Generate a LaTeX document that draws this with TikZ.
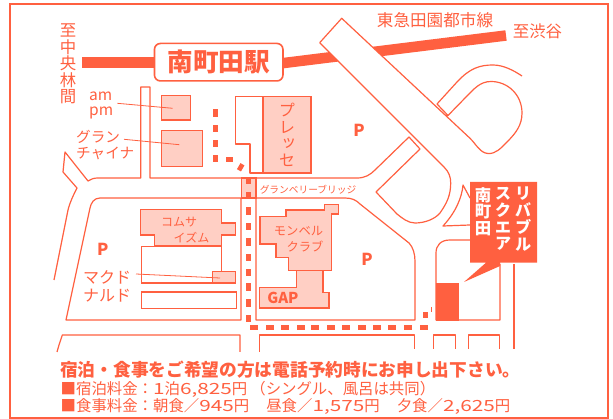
\documentclass[tikz,border=0pt]{standalone}
\usepackage{fontspec}
\setmainfont{Noto Sans CJK JP}
\newfontfamily\vjp[RawFeature=+vert]{Noto Sans CJK JP}
\newfontfamily\digs[FakeStretch=1.35]{Noto Sans CJK JP}
\definecolor{mapor}{HTML}{FF6040}
\definecolor{mappk}{HTML}{FFCFC4}
\tikzset{
  road/.style={draw=mapor,line width=1.2pt,line join=round},
  bldg/.style={draw=mapor,fill=mappk,line width=1.4pt,line join=miter},
  plainbox/.style={draw=mapor,fill=white,line width=1.3pt},
  leader/.style={draw=mapor,line width=0.8pt},
  rail/.style={draw=mapor,line width=10.5pt},
  lbl/.style={text=mapor,inner sep=0pt,align=center},
  vlbl/.style={text=mapor,inner sep=0pt,align=center,font=\vjp\fontsize{16.4}{16.5}\selectfont},
  vwhite/.style={text=white,inner sep=0pt,align=center,font=\vjp\bfseries\fontsize{16.4}{16.8}\selectfont},
  dotv/.style={fill=mapor,draw=none,minimum width=5pt,minimum height=7.5pt,inner sep=0pt,rectangle},
  doth/.style={fill=mapor,draw=none,minimum width=8pt,minimum height=4.6pt,inner sep=0pt,rectangle},
  pmark/.style={text=mapor,inner sep=0pt,font=\bfseries\fontsize{16.5}{16}\selectfont}
}
\begin{document}
\begin{tikzpicture}[x=1pt,y=-1pt]
\useasboundingbox (0,0) rectangle (613,419);
\fill[white] (0,0) rectangle (613,419);
\draw[mapor,line width=2.2pt] (10,4) rectangle (607.7,418);
% rails
\draw[rail] (82,62.5) -- (160,62.5);
\draw[rail] (280,63.5) -- (506,35.5);
% oblique road over the rail
\fill[white] (319.7,42.7) -- (341.7,18.3) -- (440,110) -- (420,140) -- cycle;
\draw[road] (319.7,42.7) -- (341.7,18.3) -- (469.7,138)
  .. controls (476,144) and (480,153) .. (488,153.5)
  .. controls (496,154) and (501,148) .. (507,142)
  .. controls (516,133) and (522,125) .. (522,113)
  .. controls (522,95) and (508,81.5) .. (491,81.5)
  .. controls (480,81.5) and (474,89) .. (467,96)
  -- (448,115.5) -- (437,104) -- (457,82)
  .. controls (470,68) and (480,65) .. (493,65)
  .. controls (503,65) and (513,70) .. (522,76);
\draw[road] (319.7,42.7) -- (444,167)
  .. controls (449,172) and (450.7,177) .. (450.7,183)
  .. controls (450.7,195) and (447,203) .. (440,213)
  .. controls (435,219) and (425,223) .. (415,223)
  .. controls (408,223) and (402,218) .. (397,214)
  -- (376,192) -- (420,149) -- (409,137) -- (375,170)
  .. controls (370,175) and (365,178) .. (357,178)
  -- (150,178) -- (150,87) -- (140.7,87) -- (140.7,178) -- (98,178)
  .. controls (94,178) and (91,179) .. (88,181)
  -- (65,152) -- (63,172) -- (77,188)
  .. controls (73,196) and (70,202) .. (68,210) -- (54,280);
% left lot
\draw[road] (241,320) -- (66,320) -- (90,208)
  .. controls (91,203) and (94,198) .. (100,198) -- (241,198) -- cycle;
% right lot
\draw[road] (256,320) -- (256,198) -- (345,198)
  .. controls (352,198) and (356,200) .. (360,204)
  -- (409,243) .. controls (413,247) and (415,254) .. (415,261)
  -- (415,320) -- cycle;
% right-hand block
\draw[road] (470,240) -- (450,240) .. controls (441,240) and (436,245) .. (436,253)
  -- (436,320) -- (500,320) -- (500,264);
\draw[road] (514,264) -- (514,349);
\draw[road] (470,198) -- (463,185) .. controls (462,197) and (456,212) .. (443,226) -- (470,225);
% lower roads
\draw[road] (57,352) -- (59,345) -- (62.3,335) -- (240,335) -- (240,352);
\draw[road] (259.3,352) -- (259.3,335) -- (414.7,335) -- (414.7,349);
\draw[road] (433.7,349) -- (433.7,335) -- (455.3,335) -- (455.3,349);
\draw[road] (468.7,349) -- (468.7,335) -- (499.7,335) -- (499.7,349);
% Plesse block
\draw[road] (263,96.7) -- (235.6,96.7) -- (235.6,144) -- (250,144) -- (250,173) -- (263,173);
\draw[bldg] (263,96.7) rectangle (311,173);
% buildings
\draw[bldg] (161.3,95.3) rectangle (190.7,120);
\draw[bldg] (161.3,130.7) rectangle (202.7,166.7);
\draw[bldg] (241.7,178) rectangle (256,198);
\draw[bldg] (140.7,209.5) -- (221.7,209.5) -- (221.7,223) -- (235.3,223) -- (235.3,235) -- (221.7,235) -- (221.7,245.7) -- (154.3,245.7) -- (154.3,235) -- (140.7,235) -- cycle;
\draw[plainbox] (141.7,246.7) -- (221.7,246.7) -- (221.7,271.3) -- (212.3,271.3) -- (212.3,283) -- (141.7,283) -- cycle;
\draw[bldg] (212.3,271.3) rectangle (235.7,283);
\draw[plainbox] (141.7,292) rectangle (236.3,308.3);
\draw[bldg] (296.7,270.5) -- (323,270.5) -- (323,292.3) -- (329,292.3) -- (329,308) -- (259.3,308) -- (259.3,287.3) -- (296.7,287.3) -- cycle;
\draw[bldg] (260,216.7) -- (286,216.7) -- (286,210) -- (324.3,210) -- (324.3,204.3) -- (338.7,204.3) -- (338.7,214) -- (331.7,214) -- (331.7,270.5) -- (288.3,270.5) -- (288.3,257.3) -- (276,257.3) -- (276,244) -- (260,244) -- cycle;
% red block and callout
\fill[mapor] (435.7,283) rectangle (459,320.7);
\fill[mapor] (470,182) -- (537,182) -- (537,262.7) -- (500,262.7) -- (500,266) -- (464,282) -- (486,262.7) -- (470,262.7) -- cycle;
% dotted route
\foreach \yy [count=\i] in {113,128.7,143.5,158.7}
  \node[dotv] (da\i) at (215.3,\yy) {};
\node[doth,minimum width=7.5pt] (db) at (229.7,159.5) {};
\node[dotv,rotate=-30,minimum height=7pt,minimum width=4.6pt] (dc) at (240.7,167.3) {};
\foreach \yy [count=\i] in {180.5,195.5,211,226.7,242,257.5,272.5,287,303,318.5}
  \node[dotv] (dv\i) at (248,\yy) {};
\foreach \xx [count=\i] in {254,270,285,300.5,315,331,346,362,377,392,407.5,424}
  \node[doth] (dh\i) at (\xx,327.7) {};
\node[dotv,minimum height=6pt] (dup) at (425.5,315) {};
\fill[mapor] (430.6,307) rectangle (431.6,312);
% station
\node[draw=mapor,fill=white,line width=1.6pt,rounded corners=6pt,minimum width=128.5pt,minimum height=37.5pt,inner sep=0pt,text=mapor,font=\bfseries\fontsize{25.6}{26}\selectfont] (sta) at (218.7,62.2) {南町田駅};
% labels
\node[vlbl] (l1) at (68,64) {至\\中\\央\\林\\間};
\node[lbl,font=\fontsize{16.6}{17}\selectfont] (l2) at (435,20) {東急田園都市線};
\node[lbl,font=\fontsize{16.4}{17}\selectfont] (l3) at (537.5,31.7) {至渋谷};
\node[lbl,font=\fontsize{15.5}{15}\selectfont,anchor=base west] (l4a) at (89,101) {am};
\node[lbl,font=\fontsize{15.5}{15}\selectfont,anchor=base west] (l4b) at (89,115.5) {pm};
\node[lbl,font=\fontsize{14.6}{15}\selectfont,anchor=west] (l5) at (76,137) {グラン};
\node[lbl,font=\fontsize{14.6}{15}\selectfont,anchor=west] (l6) at (76,153) {チャイナ};
\node[vlbl] (l7) at (287,135) {プ\\レ\\ッ\\セ};
\node[pmark] (p1) at (359,130) {P};
\node[pmark] (p2) at (102.7,249.7) {P};
\node[pmark] (p3) at (367,259) {P};
\node[lbl,font=\fontsize{9.7}{10}\selectfont] (l8) at (308,190) {グランベリーブリッジ};
\node[lbl,font=\fontsize{12}{12}\selectfont] (l9) at (179,221.7) {コムサ};
\node[lbl,font=\fontsize{12}{12}\selectfont] (l10) at (191.5,238) {イズム};
\node[lbl,font=\fontsize{12.3}{12}\selectfont] (l11) at (298.5,231) {モンベル};
\node[lbl,font=\fontsize{12.3}{12}\selectfont] (l12) at (305,247) {クラブ};
\node[lbl,font=\bfseries\fontsize{15}{14}\selectfont] (l13) at (283,298) {GAP};
\node[lbl,font=\fontsize{16}{16}\selectfont] (l14) at (107,277) {マクド};
\node[lbl,font=\fontsize{16}{16}\selectfont] (l15) at (107,296) {ナルド};
% leaders
\coordinate (t1) at (172.7,108.3);
\coordinate (t2) at (179.3,144.7);
\coordinate (t3) at (220,278);
\coordinate (s1) at (117.3,103.3);
\coordinate (s2) at (124,139.3);
\coordinate (s3) at (136,274);
\draw[leader] (s1) -- (t1);
\draw[leader] (s2) -- (t2);
\draw[leader] (s3) -- (t3);
% callout text
\node[vwhite,anchor=north] (c1) at (483,187) {南\\町\\田};
\node[vwhite,anchor=north] (c2) at (503,187) {ス\\ク\\エ\\ア};
\node[vwhite,anchor=north] (c3) at (523,187) {リ\\バ\\ブ\\ル};
% bottom text
\node[lbl,anchor=west,font=\bfseries\fontsize{17.7}{18}\selectfont] (b1) at (60,370) {宿泊・食事をご希望の方は電話予約時にお申し出下さい。};
\node[lbl,anchor=west,font=\fontsize{15.4}{16}\selectfont] (b2) at (60.5,389) {■宿泊料金：{\digs 1}泊{\digs 6,825}円\hspace{3pt}（シングル、風呂は共同）};
\node[lbl,anchor=west,font=\fontsize{15.4}{16}\selectfont] (b3) at (60.5,406) {■食事料金：朝食／{\digs 945}円\hspace{17pt}昼食／{\digs 1,575}円\hspace{17pt}夕食／{\digs 2,625}円};
\end{tikzpicture}
\end{document}
